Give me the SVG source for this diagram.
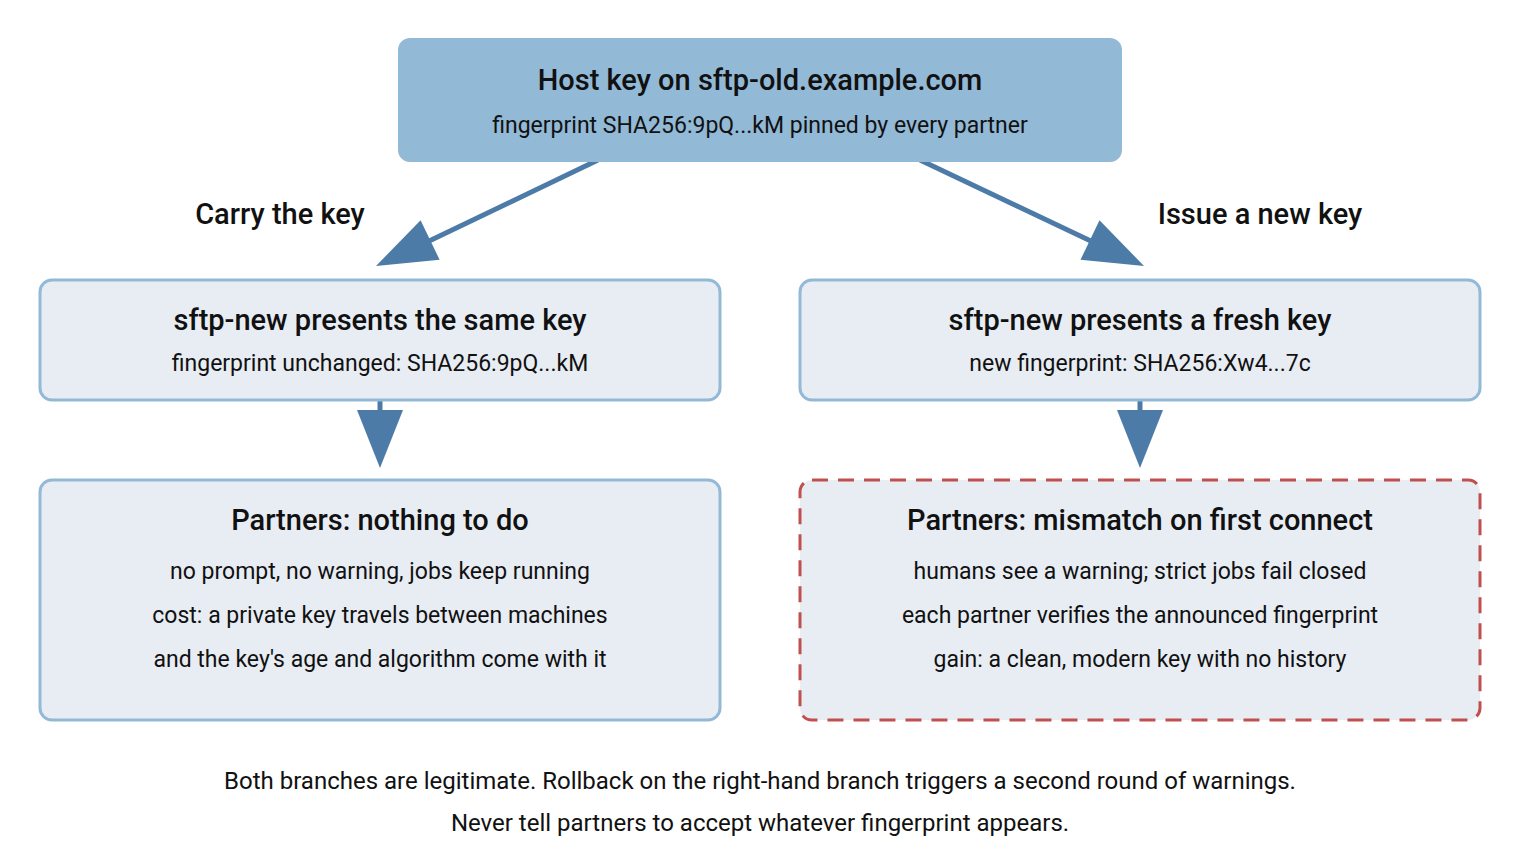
<svg xmlns="http://www.w3.org/2000/svg" width="1520" height="860" viewBox="0 0 1520 860">
<style>
text{font-family:Roboto,"Liberation Sans",sans-serif;fill:#111;text-anchor:middle}
.t{font-size:29px;font-weight:500}
.s{font-size:23px}
.f{font-size:24px}
.box{fill:#e8edf4;stroke:#92b9d6;stroke-width:3}
.ln{stroke:#4d7ba8;stroke-width:5;fill:none}
.hd{fill:#4d7ba8}
</style>
<rect width="1520" height="860" fill="#fff"/>
<g id="connectors">
<line class="ln" x1="598" y1="160" x2="425" y2="243"/>
<polygon class="hd" points="376,266 420.6,220.2 439.6,259.8"/>
<line class="ln" x1="920" y1="160" x2="1095" y2="243"/>
<polygon class="hd" points="1144,266 1099.5,220.2 1080.5,259.8"/>
<line class="ln" x1="380" y1="400" x2="380" y2="415"/>
<polygon class="hd" points="357,410 403,410 380,468"/>
<line class="ln" x1="1140" y1="400" x2="1140" y2="415"/>
<polygon class="hd" points="1117,410 1163,410 1140,468"/>
<text class="t" x="280" y="224">Carry the key</text>
<text class="t" x="1260" y="224">Issue a new key</text>
</g>
<g id="root">
<rect x="398" y="38" width="724" height="124" rx="12" fill="#92b9d6"/>
<text class="t" x="760" y="90">Host key on sftp-old.example.com</text>
<text class="s" x="760" y="133">fingerprint SHA256:9pQ...kM pinned by every partner</text>
</g>
<g id="same">
<rect class="box" x="40" y="280" width="680" height="120" rx="12"/>
<text class="t" x="380" y="330">sftp-new presents the same key</text>
<text class="s" x="380" y="371">fingerprint unchanged: SHA256:9pQ...kM</text>
</g>
<g id="fresh">
<rect class="box" x="800" y="280" width="680" height="120" rx="12"/>
<text class="t" x="1140" y="330">sftp-new presents a fresh key</text>
<text class="s" x="1140" y="371">new fingerprint: SHA256:Xw4...7c</text>
</g>
<g id="nothing">
<rect class="box" x="40" y="480" width="680" height="240" rx="12"/>
<text class="t" x="380" y="530">Partners: nothing to do</text>
<text class="s" x="380" y="579">no prompt, no warning, jobs keep running</text>
<text class="s" x="380" y="623">cost: a private key travels between machines</text>
<text class="s" x="380" y="667">and the key's age and algorithm come with it</text>
</g>
<g id="mismatch">
<rect x="800" y="480" width="680" height="240" rx="12" fill="#e8edf4" stroke="#c0504d" stroke-width="3" stroke-dasharray="16,10"/>
<text class="t" x="1140" y="530">Partners: mismatch on first connect</text>
<text class="s" x="1140" y="579">humans see a warning; strict jobs fail closed</text>
<text class="s" x="1140" y="623">each partner verifies the announced fingerprint</text>
<text class="s" x="1140" y="667">gain: a clean, modern key with no history</text>
</g>
<g id="footer">
<text class="f" x="760" y="789">Both branches are legitimate. Rollback on the right-hand branch triggers a second round of warnings.</text>
<text class="f" x="760" y="831">Never tell partners to accept whatever fingerprint appears.</text>
</g>
</svg>
